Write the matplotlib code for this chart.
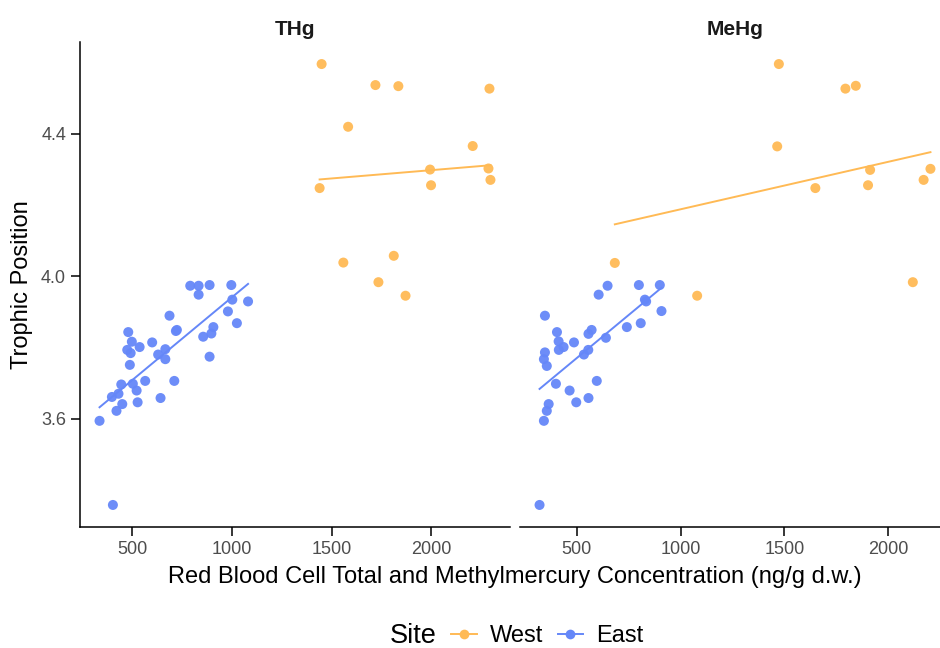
import numpy as np
import matplotlib
matplotlib.use("Agg")
import matplotlib.pyplot as plt
from matplotlib.lines import Line2D

plt.rcParams['font.family'] = ['Liberation Sans', 'DejaVu Sans']

# Red blood cell mercury (ng/g d.w.) vs trophic position, by site
thg_west_x = [1450, 1720, 1835, 2292, 1583, 2208, 1994, 2287, 2297, 1440, 1999, 1559, 1812, 1735, 1871]
thg_west_y = [4.595, 4.536, 4.533, 4.526, 4.419, 4.365, 4.299, 4.302, 4.270, 4.247, 4.255, 4.038, 4.057, 3.983, 3.945]

thg_east_x = [336, 403, 421, 450, 398, 431, 445, 503, 522, 527, 565, 642, 711, 488, 475, 492, 498,
              537, 480, 600, 630, 666, 666, 687, 719, 724, 856, 897, 907, 888, 791, 833, 888, 833,
              997, 1002, 980, 1025, 1081]
thg_east_y = [3.594, 3.358, 3.622, 3.641, 3.661, 3.670, 3.696, 3.698, 3.679, 3.646, 3.706, 3.658, 3.706,
              3.751, 3.793, 3.784, 3.816, 3.801, 3.843, 3.814, 3.780, 3.795, 3.767, 3.889, 3.846, 3.849,
              3.830, 3.839, 3.857, 3.774, 3.973, 3.973, 3.975, 3.948, 3.975, 3.934, 3.901, 3.868, 3.929]

mehg_west_x = [1474, 1795, 1845, 1466, 1914, 2205, 2172, 1650, 1904, 683, 2120, 1080]
mehg_west_y = [4.595, 4.526, 4.534, 4.364, 4.298, 4.301, 4.270, 4.247, 4.255, 4.037, 3.983, 3.945]

mehg_east_x = [320, 341, 355, 364, 399, 465, 497, 556, 596, 341, 346, 355, 346, 404, 412, 413, 436,
               486, 534, 555, 556, 571, 640, 741, 808, 605, 648, 799, 900, 828, 834, 908]
mehg_east_y = [3.358, 3.594, 3.622, 3.641, 3.698, 3.679, 3.646, 3.658, 3.706, 3.767, 3.786, 3.748,
               3.889, 3.843, 3.817, 3.793, 3.801, 3.814, 3.780, 3.793, 3.838, 3.849, 3.827, 3.857,
               3.868, 3.948, 3.973, 3.975, 3.975, 3.934, 3.929, 3.902]

panels = ["THg", "MeHg"]
sites = ["West", "East"]
colors = {"West": "#FFBA55", "East": "#6587F8"}
x_ticks = [500, 1000, 1500, 2000]
y_ticks = [3.6, 4.0, 4.4]

data = {
    "THg": {"West": (thg_west_x, thg_west_y), "East": (thg_east_x, thg_east_y)},
    "MeHg": {"West": (mehg_west_x, mehg_west_y), "East": (mehg_east_x, mehg_east_y)},
}

W, H = 940, 648
fig = plt.figure(figsize=(W / 100, H / 100), dpi=100)

def px_axes(x0, y0, x1, y1):
    return fig.add_axes([x0 / W, 1 - y1 / H, (x1 - x0) / W, (y1 - y0) / H])

ax_left = px_axes(80, 42, 510, 527)
ax_right = px_axes(520, 42, 950, 527)
axes = [ax_left, ax_right]

all_y = thg_west_y + thg_east_y + mehg_west_y + mehg_east_y
ymin, ymax = min(all_y), max(all_y)
ypad = 0.05 * (ymax - ymin)

for ax, panel in zip(axes, panels):
    xs_all = []
    for site in sites:
        x, y = data[panel][site]
        x = np.asarray(x, float)
        y = np.asarray(y, float)
        xs_all += list(x)
        ax.scatter(x, y, s=52, color=colors[site], alpha=0.95, edgecolors='none', zorder=3)
        slope, icpt = np.polyfit(x, y, 1)
        xl = np.array([x.min(), x.max()])
        ax.plot(xl, icpt + slope * xl, color=colors[site], lw=1.4, zorder=2)
    xmin, xmax = min(xs_all), max(xs_all)
    xpad = 0.05 * (xmax - xmin)
    ax.set_xlim(xmin - xpad, xmax + xpad)
    ax.set_ylim(ymin - ypad, ymax + ypad)
    ax.set_xticks(x_ticks)
    ax.set_xticklabels([str(t) for t in x_ticks])
    ax.set_yticks(y_ticks)
    ax.set_yticklabels([f"{t:.1f}" for t in y_ticks])
    for s in ["top", "right"]:
        ax.spines[s].set_visible(False)
    ax.spines["left"].set_linewidth(1.1)
    ax.spines["bottom"].set_linewidth(1.1)
    ax.tick_params(axis='both', length=6.5, width=1.1, color='black',
                   labelsize=13, labelcolor='#4D4D4D', pad=3.5)
    ax.set_title(panel, fontsize=15, fontweight='bold', color='#1A1A1A', pad=5)

ax_right.spines["left"].set_visible(False)
ax_right.tick_params(axis='y', left=False, labelleft=False)

ax_left.set_ylabel("Trophic Position", fontsize=17, color='black', va='center')
ax_left.yaxis.set_label_coords((22 - 80) / 430, 0.5)
fig.text(515 / W, 1 - 577 / H, "Red Blood Cell Total and Methylmercury Concentration (ng/g d.w.)",
         ha='center', va='center', fontsize=17, color='black')

# bottom legend: title on the left, entries in one row
fig.text(390 / W, 1 - 636 / H, "Site", ha='left', va='center', fontsize=19.5, color='black')
handles = [Line2D([0], [0], color=colors[s], lw=1.4, marker='o', markersize=7,
                  markeredgewidth=0) for s in sites]
fig.legend(handles, sites, loc='center left', bbox_to_anchor=(451 / W, 1 - 636 / H),
           ncol=2, frameon=False, fontsize=17, handlelength=1.1, handletextpad=0.55,
           columnspacing=0.6, borderaxespad=0, borderpad=0)

fig.savefig("out.png", dpi=100)
